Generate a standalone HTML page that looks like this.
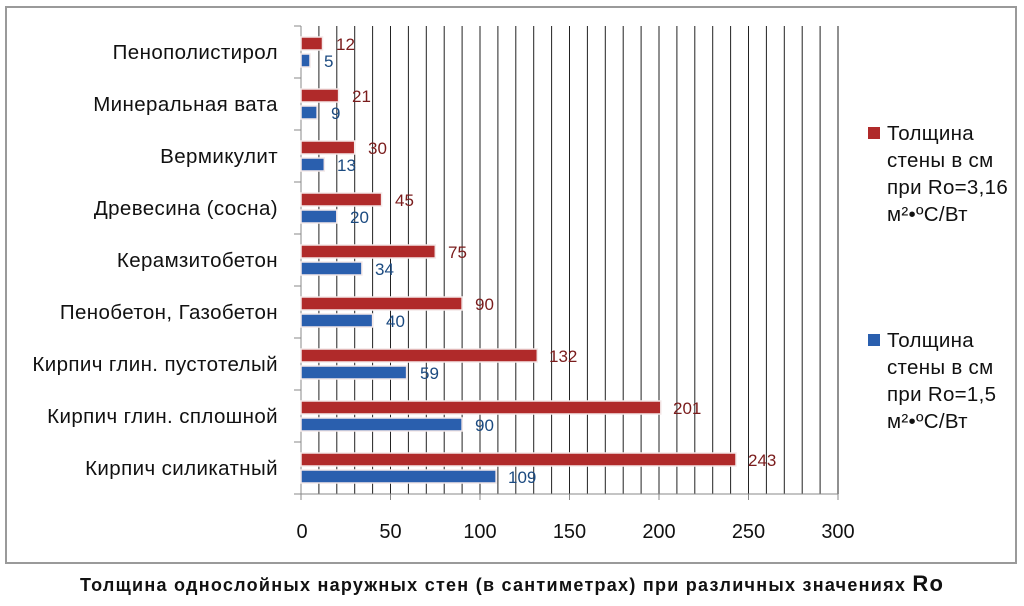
<!DOCTYPE html>
<html><head><meta charset="utf-8"><style>
body{margin:0;background:#fff;}
svg{display:block;font-family:"Liberation Sans",sans-serif;}
</style></head><body>
<svg width="1024" height="606" viewBox="0 0 1024 606" xmlns="http://www.w3.org/2000/svg">
<rect x="0" y="0" width="1024" height="606" fill="#fff"/>
<rect x="6" y="7" width="1010" height="556" fill="#fff" stroke="#9a9a9a" stroke-width="2"/>
<g stroke="#222" stroke-width="1">
<line x1="318.9" y1="26" x2="318.9" y2="494"/><line x1="336.8" y1="26" x2="336.8" y2="494"/><line x1="354.7" y1="26" x2="354.7" y2="494"/><line x1="372.6" y1="26" x2="372.6" y2="494"/><line x1="390.5" y1="26" x2="390.5" y2="494"/><line x1="408.4" y1="26" x2="408.4" y2="494"/><line x1="426.3" y1="26" x2="426.3" y2="494"/><line x1="444.2" y1="26" x2="444.2" y2="494"/><line x1="462.1" y1="26" x2="462.1" y2="494"/><line x1="480" y1="26" x2="480" y2="494"/><line x1="497.9" y1="26" x2="497.9" y2="494"/><line x1="515.8" y1="26" x2="515.8" y2="494"/><line x1="533.7" y1="26" x2="533.7" y2="494"/><line x1="551.6" y1="26" x2="551.6" y2="494"/><line x1="569.5" y1="26" x2="569.5" y2="494"/><line x1="587.4" y1="26" x2="587.4" y2="494"/><line x1="605.3" y1="26" x2="605.3" y2="494"/><line x1="623.2" y1="26" x2="623.2" y2="494"/><line x1="641.1" y1="26" x2="641.1" y2="494"/><line x1="659" y1="26" x2="659" y2="494"/><line x1="676.9" y1="26" x2="676.9" y2="494"/><line x1="694.8" y1="26" x2="694.8" y2="494"/><line x1="712.7" y1="26" x2="712.7" y2="494"/><line x1="730.6" y1="26" x2="730.6" y2="494"/><line x1="748.5" y1="26" x2="748.5" y2="494"/><line x1="766.4" y1="26" x2="766.4" y2="494"/><line x1="784.3" y1="26" x2="784.3" y2="494"/><line x1="802.2" y1="26" x2="802.2" y2="494"/><line x1="820.1" y1="26" x2="820.1" y2="494"/><line x1="838" y1="26" x2="838" y2="494"/>
</g>
<g stroke="#888" stroke-width="1">
<line x1="301" y1="26" x2="301" y2="500"/>
<line x1="294" y1="494" x2="838" y2="494"/>
<line x1="294" y1="26" x2="301" y2="26"/><line x1="294" y1="78" x2="301" y2="78"/><line x1="294" y1="130" x2="301" y2="130"/><line x1="294" y1="182" x2="301" y2="182"/><line x1="294" y1="234" x2="301" y2="234"/><line x1="294" y1="286" x2="301" y2="286"/><line x1="294" y1="338" x2="301" y2="338"/><line x1="294" y1="390" x2="301" y2="390"/><line x1="294" y1="442" x2="301" y2="442"/>
<line x1="390.5" y1="494" x2="390.5" y2="500"/><line x1="480" y1="494" x2="480" y2="500"/><line x1="569.5" y1="494" x2="569.5" y2="500"/><line x1="659" y1="494" x2="659" y2="500"/><line x1="748.5" y1="494" x2="748.5" y2="500"/><line x1="838" y1="494" x2="838" y2="500"/>
</g>
<g stroke="#f4e8e8" stroke-width="1.5">
<g fill="#b02a2a">
<rect x="301" y="37" width="21.5" height="13"/><rect x="301" y="89" width="37.6" height="13"/><rect x="301" y="141" width="53.7" height="13"/><rect x="301" y="193" width="80.6" height="13"/><rect x="301" y="245" width="134.3" height="13"/><rect x="301" y="297" width="161.1" height="13"/><rect x="301" y="349" width="236.3" height="13"/><rect x="301" y="401" width="359.8" height="13"/><rect x="301" y="453" width="435" height="13"/>
</g>
<g fill="#2a5fae">
<rect x="301" y="54" width="9" height="13"/><rect x="301" y="106" width="16.1" height="13"/><rect x="301" y="158" width="23.3" height="13"/><rect x="301" y="210" width="35.8" height="13"/><rect x="301" y="262" width="60.9" height="13"/><rect x="301" y="314" width="71.6" height="13"/><rect x="301" y="366" width="105.6" height="13"/><rect x="301" y="418" width="161.1" height="13"/><rect x="301" y="470" width="195.1" height="13"/>
</g>
</g>
<g font-size="17" fill="#7a1c1c">
<text x="336" y="50">12</text><text x="352" y="102">21</text><text x="368" y="154">30</text><text x="395" y="206">45</text><text x="448" y="258">75</text><text x="475" y="310">90</text><text x="549" y="362">132</text><text x="673" y="414">201</text><text x="748" y="466">243</text>
</g>
<g font-size="17" fill="#1b4a80">
<text x="324" y="67">5</text><text x="331" y="119">9</text><text x="337" y="171">13</text><text x="350" y="223">20</text><text x="375" y="275">34</text><text x="386" y="327">40</text><text x="420" y="379">59</text><text x="475" y="431">90</text><text x="508" y="483">109</text>
</g>
<g font-size="20.5" fill="#111" text-anchor="end" letter-spacing="0.4">
<text x="278" y="59">Пенополистирол</text><text x="278" y="111">Минеральная вата</text><text x="278" y="163">Вермикулит</text><text x="278" y="215">Древесина (сосна)</text><text x="278" y="267">Керамзитобетон</text><text x="278" y="319">Пенобетон, Газобетон</text><text x="278" y="371">Кирпич глин. пустотелый</text><text x="278" y="423">Кирпич глин. сплошной</text><text x="278" y="475">Кирпич силикатный</text>
</g>
<g font-size="20" fill="#111" text-anchor="middle">
<text x="302" y="538">0</text><text x="390.5" y="538">50</text><text x="480" y="538">100</text><text x="569.5" y="538">150</text><text x="659" y="538">200</text><text x="748.5" y="538">250</text><text x="838" y="538">300</text>
</g>
<rect x="868" y="127" width="12" height="12" fill="#b02a2a"/>
<rect x="868" y="334" width="12" height="12" fill="#2a5fae"/>
<g font-size="20.5" fill="#111" letter-spacing="0.3">
<text x="887" y="140">Толщина</text><text x="887" y="167">стены в см</text><text x="887" y="194">при Ro=3,16</text><text x="887" y="221">м²•ºС/Вт</text>
<text x="887" y="347">Толщина</text><text x="887" y="374">стены в см</text><text x="887" y="401">при Ro=1,5</text><text x="887" y="428">м²•ºС/Вт</text>
</g>
<text x="80" y="591" font-size="18" font-weight="bold" fill="#111" textLength="863" lengthAdjust="spacing">Толщина однослойных наружных стен (в сантиметрах) при различных значениях <tspan font-size="22">Ro</tspan></text>
</svg>
</body></html>
